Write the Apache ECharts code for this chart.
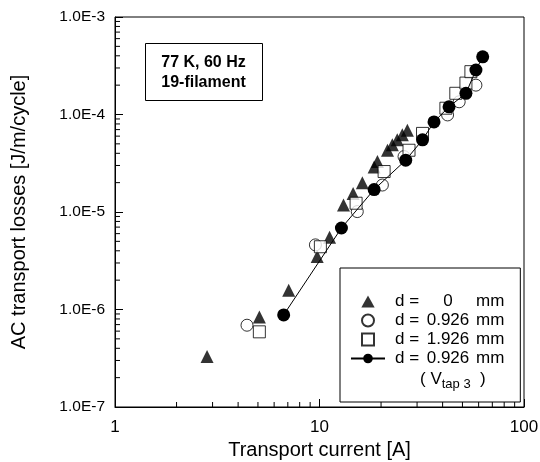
<!DOCTYPE html>
<html>
<head>
<meta charset="utf-8">
<script src="https://cdn.jsdelivr.net/npm/echarts@6/dist/echarts.min.js"></script>
<style>
html, body { margin: 0; padding: 0; background: #fff; }
#chart { width: 540px; height: 462px; }
</style>
</head>
<body>
<div id="chart"></div>
<script>
// d = 0 mm (filled triangles)
const triCurrent = [2.82, 5.08, 7.07, 9.74, 11.2, 13.1, 14.6, 16.2, 18.5, 19.2, 21.5, 22.7, 24.0, 25.4, 26.9]
const triLoss = [3.3e-7, 8.4e-7, 1.58e-6, 3.5e-6, 5.5e-6, 1.18e-5, 1.55e-5, 2.0e-5, 2.9e-5, 3.3e-5, 4.3e-5, 4.9e-5, 5.5e-5, 6.2e-5, 6.9e-5]
// d = 0.926 mm (open circles)
const circCurrent = [4.42, 9.55, 15.3, 20.3, 25.9, 42.3, 48.2, 58.2]
const circLoss = [6.9e-7, 4.6e-6, 1.01e-5, 1.89e-5, 3.7e-5, 9.9e-5, 1.35e-4, 2.0e-4]
// d = 1.926 mm (open squares)
const sqCurrent = [5.08, 10.1, 15.1, 20.7, 27.4, 31.9, 41.5, 46.4, 52.0, 55.0]
const sqLoss = [5.9e-7, 4.4e-6, 1.23e-5, 2.6e-5, 4.3e-5, 6.4e-5, 1.16e-4, 1.65e-4, 2.1e-4, 2.75e-4]
// d = 0.926 mm, V tap 3 (filled circles + line)
const tapCurrent = [6.68, 12.8, 18.5, 26.4, 31.9, 36.3, 43.0, 52.0, 58.2, 62.8]
const tapLoss = [8.8e-7, 6.85e-6, 1.7e-5, 3.4e-5, 5.5e-5, 8.4e-5, 1.2e-4, 1.65e-4, 2.86e-4, 3.9e-4]

// minor tick positions (log axes)
const xMinor = [2, 3, 4, 5, 6, 7, 8, 9, 20, 30, 40, 50, 60, 70, 80, 90]
const yMinor = []
;[1e-7, 1e-6, 1e-5, 1e-4].forEach(dec => {
  for (let m = 2; m <= 9; m++) yMinor.push(m * dec)
})

const legendNum = { s0: '0', s1: '0.926', s2: '1.926', s3: '0.926' }

const pairs = (xs, ys) => xs.map((x, i) => [x, ys[i]])

const chart = echarts.init(document.getElementById('chart'))

const font = 'Liberation Sans'

const option = {
  animation: false,
  backgroundColor: '#fff',
  grid: {
    left: 115,
    right: 16,
    top: 17,
    bottom: 55,
    containLabel: false,
    outerBoundsMode: 'none',
    show: true,
    borderColor: '#000',
    borderWidth: 1
  },
  xAxis: {
    type: 'log',
    logBase: 10,
    min: 1,
    max: 100,
    name: 'Transport current [A]',
    nameLocation: 'middle',
    nameGap: 29,
    nameTextStyle: { fontFamily: font, fontSize: 20, color: '#000' },
    axisLine: { onZero: false, lineStyle: { color: '#000', width: 1 } },
    axisTick: { inside: true, length: 8, lineStyle: { color: '#000' } },
    axisLabel: { fontFamily: font, fontSize: 17, color: '#000', margin: 12 },
    splitLine: { show: false }
  },
  yAxis: {
    type: 'log',
    logBase: 10,
    min: 1e-7,
    max: 1e-3,
    name: 'AC transport losses [J/m/cycle]',
    nameLocation: 'middle',
    nameGap: 86,
    nameTextStyle: { fontFamily: font, fontSize: 20, color: '#000' },
    axisLine: { onZero: false, lineStyle: { color: '#000', width: 1 } },
    axisTick: { inside: true, length: 8, lineStyle: { color: '#000' } },
    axisLabel: {
      fontFamily: font,
      fontSize: 15.5,
      color: '#000',
      margin: 10,
      formatter: v => Number(v).toExponential(1).toUpperCase()
    },
    splitLine: { show: false }
  },
  legend: {
    orient: 'vertical',
    left: 340,
    top: 268,
    padding: [25, 16, 35, 10],
    itemWidth: 34,
    itemHeight: 12,
    itemGap: 2,
    borderColor: '#000',
    borderWidth: 1,
    backgroundColor: '#fff',
    symbolKeepAspect: true,
    data: [
      { name: 's0', icon: 'path://M5,0L10,9L0,9Z' },
      { name: 's1', icon: 'path://M10,5A5,5,0,1,1,0,5A5,5,0,1,1,10,5Z' },
      { name: 's2', icon: 'path://M0,0H10V10H0Z' },
      { name: 's3' }
    ],
    formatter: name => `{a|d =}{b|${legendNum[name]}}{c|mm}`,
    textStyle: {
      fontFamily: font,
      fontSize: 17,
      lineHeight: 16,
      color: '#000',
      rich: {
        a: { fontFamily: font, fontSize: 17, lineHeight: 16, color: '#000', width: 30, padding: [0, 0, 0, 5] },
        b: { fontFamily: font, fontSize: 17, lineHeight: 16, color: '#000', width: 46, align: 'center' },
        c: { fontFamily: font, fontSize: 17, lineHeight: 16, color: '#000', padding: [0, 0, 0, 5] }
      }
    }
  },
  graphic: [
    {
      type: 'group',
      left: 145,
      top: 43,
      children: [
        {
          type: 'rect',
          shape: { x: 0, y: 0, width: 117, height: 57 },
          style: { fill: '#fff', stroke: '#000', lineWidth: 1 }
        },
        {
          type: 'text',
          x: 58,
          y: 9,
          style: {
            text: '77 K, 60 Hz\n19-filament',
            font: 'bold 16px "Liberation Sans"',
            fill: '#000',
            textAlign: 'center',
            lineHeight: 20
          }
        }
      ]
    },
    {
      type: 'text',
      left: 420,
      top: 371,
      z: 100,
      style: {
        text: '( V{s|tap 3}  )',
        font: '17px "Liberation Sans"',
        fill: '#000',
        rich: {
          s: { fontFamily: font, fontSize: 13, color: '#000', padding: [10, 0, 0, 0] }
        }
      }
    }
  ],
  series: [
    {
      name: 's0',
      type: 'scatter',
      symbol: 'triangle',
      symbolSize: 13,
      itemStyle: { color: '#000' },
      data: pairs(triCurrent, triLoss)
    },
    {
      name: 's1',
      type: 'scatter',
      symbol: 'circle',
      symbolSize: 12,
      itemStyle: { color: '#fff', borderColor: '#000', borderWidth: 1 },
      data: pairs(circCurrent, circLoss)
    },
    {
      name: 's2',
      type: 'scatter',
      symbol: 'rect',
      symbolSize: 12,
      itemStyle: { color: '#fff', borderColor: '#000', borderWidth: 1 },
      data: pairs(sqCurrent, sqLoss)
    },
    {
      name: 's3',
      type: 'line',
      symbol: 'circle',
      symbolSize: 13,
      showAllSymbol: true,
      lineStyle: { color: '#000', width: 1 },
      itemStyle: { color: '#000' },
      data: pairs(tapCurrent, tapLoss)
    },
    {
      // minor ticks on the y axis
      type: 'custom',
      silent: true,
      data: yMinor.map(v => [1, v]),
      renderItem: (params, api) => {
        const p = api.coord([1, api.value(1)])
        return {
          type: 'line',
          shape: { x1: p[0], y1: p[1], x2: p[0] + 5, y2: p[1] },
          style: { stroke: '#000', lineWidth: 1 }
        }
      }
    },
    {
      // minor ticks on the x axis
      type: 'custom',
      silent: true,
      data: xMinor.map(v => [v, 1e-7]),
      renderItem: (params, api) => {
        const p = api.coord([api.value(0), 1e-7])
        return {
          type: 'line',
          shape: { x1: p[0], y1: p[1], x2: p[0], y2: p[1] - 5 },
          style: { stroke: '#000', lineWidth: 1 }
        }
      }
    }
  ]
}

chart.setOption(option)
</script>
</body>
</html>
